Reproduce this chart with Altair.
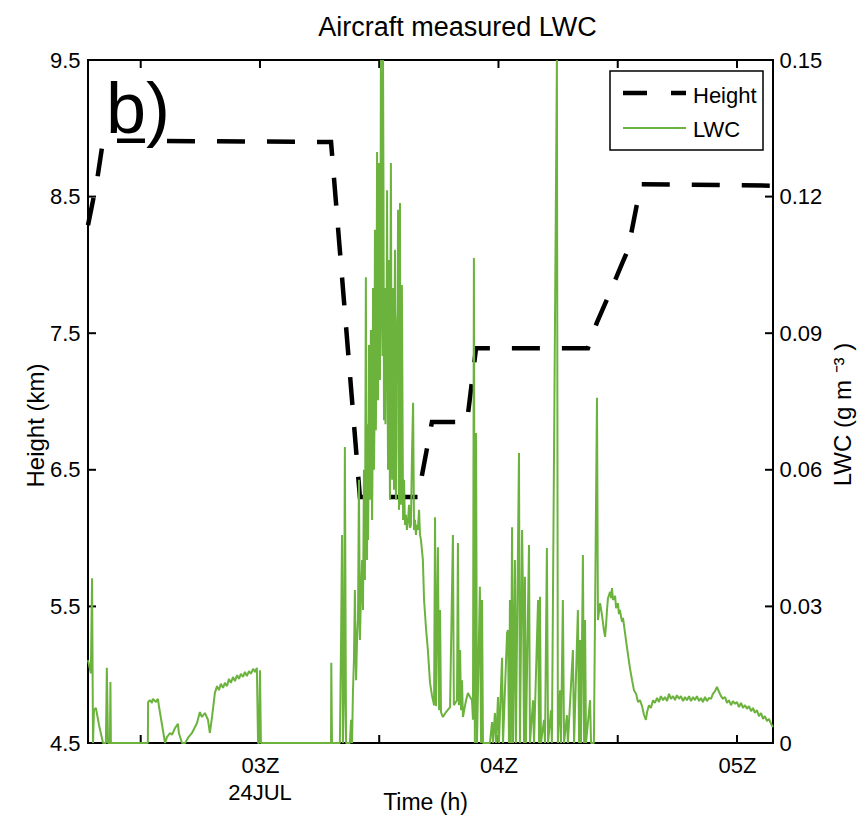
import altair as alt
import pandas as pd

FONT = "Liberation Sans, Arial, sans-serif"
GREEN = "#6cb33e"

# ---------------- data ----------------
height_time = [2.279, 2.317, 2.342, 3.298, 3.419, 3.662, 3.721, 3.868, 3.906,
               4.375, 4.413, 4.468, 4.518, 4.543, 4.597, 5.151]
height_km = [8.29, 8.62, 8.91, 8.90, 6.30, 6.30, 6.85, 6.85, 7.39,
             7.39, 7.58, 7.80, 8.01, 8.11, 8.59, 8.58]

lwc_time = [
    2.279, 2.291, 2.296, 2.300, 2.304, 2.312, 2.325, 2.342, 2.354, 2.358, 2.363, 2.371, 2.373, 2.375,
    2.530, 2.531, 2.539, 2.547, 2.551, 2.564, 2.572, 2.577, 2.602, 2.610, 2.623, 2.631, 2.644, 2.656,
    2.660, 2.673, 2.686, 2.698, 2.715, 2.736, 2.748, 2.757, 2.769, 2.782, 2.790, 2.799,
    2.811, 2.820, 2.828, 2.836, 2.845, 2.853, 2.862, 2.870, 2.878, 2.887, 2.895, 2.904, 2.912, 2.920,
    2.929, 2.937, 2.945, 2.954, 2.962, 2.971, 2.979, 2.987, 2.992, 2.996, 3.000, 3.004,
    3.298, 3.299, 3.302, 3.335, 3.340, 3.344, 3.348, 3.352, 3.356, 3.361, 3.377, 3.382, 3.386,
    3.390, 3.394, 3.398, 3.403, 3.407, 3.411, 3.415, 3.419, 3.423, 3.428, 3.432, 3.436, 3.440,
    3.444, 3.449, 3.453, 3.457, 3.461, 3.465, 3.470, 3.474, 3.478, 3.482, 3.486, 3.491, 3.495,
    3.499, 3.503, 3.507, 3.512, 3.516, 3.520, 3.524, 3.528, 3.533, 3.537, 3.541, 3.545, 3.549,
    3.554, 3.558, 3.562, 3.566, 3.570, 3.574, 3.579, 3.583, 3.587, 3.591, 3.595, 3.600, 3.604,
    3.608, 3.612, 3.616, 3.621, 3.625, 3.629, 3.633, 3.637, 3.642, 3.646, 3.650, 3.654, 3.658,
    3.662, 3.667, 3.671, 3.675, 3.683, 3.688, 3.696, 3.704, 3.713, 3.721, 3.730, 3.734, 3.738,
    3.746, 3.751, 3.755, 3.759, 3.767, 3.780, 3.797, 3.809, 3.813, 3.826, 3.830, 3.834, 3.839,
    3.843, 3.847, 3.851, 3.864, 3.872, 3.881, 3.889, 3.893, 3.897, 3.901, 3.906, 3.910, 3.922,
    3.927, 3.931, 3.935, 3.964, 3.973, 3.977, 3.985, 3.990, 3.998, 4.002, 4.015, 4.019, 4.036,
    4.040, 4.044, 4.048, 4.052, 4.057, 4.061, 4.069, 4.073, 4.086, 4.090, 4.099, 4.103, 4.107,
    4.111, 4.115, 4.128, 4.132, 4.145, 4.149, 4.166, 4.170, 4.174, 4.178, 4.191, 4.195, 4.203,
    4.208, 4.220, 4.224, 4.245, 4.249, 4.258, 4.262, 4.270, 4.275, 4.287, 4.291, 4.312, 4.317,
    4.333, 4.338, 4.342, 4.346, 4.354, 4.359, 4.363, 4.367, 4.384, 4.388, 4.400, 4.413,
    4.417, 4.426, 4.434, 4.442, 4.447, 4.451, 4.455, 4.459, 4.468, 4.472, 4.476, 4.480, 4.489,
    4.493, 4.501, 4.505, 4.509, 4.518, 4.522, 4.530, 4.539, 4.551, 4.560, 4.568, 4.577, 4.585,
    4.593, 4.602, 4.610, 4.618, 4.623, 4.631, 4.639, 4.648, 4.656, 4.665, 4.673, 4.681, 4.690,
    4.698, 4.707, 4.715, 4.723, 4.732, 4.740, 4.748, 4.757, 4.765, 4.774, 4.782, 4.790, 4.799,
    4.807, 4.816, 4.824, 4.832, 4.841, 4.849, 4.857, 4.866, 4.874, 4.883, 4.891, 4.899, 4.908,
    4.916, 4.925, 4.933, 4.941, 4.950, 4.958, 4.966, 4.975, 4.983, 4.992, 5.000, 5.008, 5.017,
    5.025, 5.034, 5.042, 5.050, 5.059, 5.067, 5.075, 5.084, 5.092, 5.101, 5.109, 5.117, 5.126,
    5.134, 5.143, 5.151,
]
lwc_value = [
    0.0182, 0.0153, 0.0362, 0.0, 0.0072, 0.0077, 0.0040, 0.0, 0.0, 0.0165, 0.0, 0.0, 0.0134, 0.0,
    0.0, 0.0090, 0.0094, 0.0088, 0.0097, 0.0090, 0.0097, 0.0079, 0.0, 0.0013, 0.0022, 0.0018, 0.0033, 0.0042,
    0.0022, 0.0, 0.0, 0.0011, 0.0022, 0.0044, 0.0068, 0.0057, 0.0066, 0.0051, 0.0022, 0.0057,
    0.0110, 0.0125, 0.0116, 0.0130, 0.0121, 0.0132, 0.0125, 0.0141, 0.0132, 0.0145, 0.0136, 0.0149, 0.0141, 0.0152,
    0.0145, 0.0156, 0.0147, 0.0158, 0.0152, 0.0163, 0.0156, 0.0165, 0.0, 0.0, 0.0160, 0.0,
    0.0, 0.0176, 0.0, 0.0, 0.0226, 0.0457, 0.0, 0.0094, 0.0650, 0.0, 0.0, 0.0051, 0.0,
    0.0116, 0.0182, 0.0336, 0.0138, 0.0226, 0.0270, 0.0578, 0.0226, 0.0314, 0.0402, 0.0292, 0.0600, 0.0358,
    0.1023, 0.0402, 0.0446, 0.0874, 0.0534, 0.0907, 0.0490, 0.0999, 0.0600, 0.1127, 0.0687, 0.1298, 0.0753,
    0.1274, 0.0797, 0.1500, 0.0973, 0.1500, 0.0709, 0.0999, 0.0907, 0.1214, 0.0600, 0.1061, 0.0534, 0.1274,
    0.0578, 0.0999, 0.0556, 0.1083, 0.0534, 0.0907, 0.1171, 0.0512, 0.1186, 0.0523, 0.1006, 0.0490, 0.0578,
    0.0479, 0.0501, 0.0468, 0.0490, 0.0523, 0.0472, 0.0479, 0.0622, 0.0747, 0.0468, 0.0490, 0.0457, 0.0479,
    0.0468, 0.0512, 0.0457, 0.0446, 0.0402, 0.0314, 0.0253, 0.0204, 0.0132, 0.0105, 0.0083, 0.0496, 0.0081,
    0.0430, 0.0072, 0.0292, 0.0068, 0.0057, 0.0068, 0.0079, 0.0457, 0.0083, 0.0094, 0.0439, 0.0083, 0.0204,
    0.0072, 0.0138, 0.0057, 0.0094, 0.0110, 0.0101, 0.0094, 0.0051, 0.1065, 0.0, 0.0681, 0.0, 0.0343,
    0.0, 0.0314, 0.0, 0.0, 0.0046, 0.0, 0.0066, 0.0, 0.0101, 0.0, 0.0187, 0.0, 0.0242,
    0.0248, 0.0, 0.0314, 0.0, 0.0474, 0.0, 0.0402, 0.0, 0.0637, 0.0, 0.0468, 0.0314, 0.0,
    0.0365, 0.0, 0.0435, 0.0, 0.0094, 0.0, 0.0314, 0.0, 0.0321, 0.0, 0.0051, 0.0, 0.0428,
    0.0, 0.0072, 0.0, 0.1500, 0.0, 0.0116, 0.0, 0.0314, 0.0, 0.0061, 0.0, 0.0204, 0.0,
    0.0292, 0.0, 0.0226, 0.0, 0.0413, 0.0, 0.0270, 0.0, 0.0094, 0.0, 0.0, 0.0758,
    0.0270, 0.0307, 0.0281, 0.0248, 0.0233, 0.0259, 0.0292, 0.0318, 0.0332, 0.0318, 0.0340, 0.0314, 0.0323,
    0.0296, 0.0307, 0.0283, 0.0292, 0.0266, 0.0275, 0.0244, 0.0209, 0.0165, 0.0138, 0.0116, 0.0108, 0.0090,
    0.0094, 0.0081, 0.0062, 0.0051, 0.0068, 0.0083, 0.0077, 0.0094, 0.0088, 0.0099, 0.0090, 0.0103, 0.0094,
    0.0101, 0.0092, 0.0108, 0.0097, 0.0103, 0.0094, 0.0105, 0.0097, 0.0103, 0.0092, 0.0101, 0.0094, 0.0103,
    0.0092, 0.0101, 0.0094, 0.0103, 0.0092, 0.0099, 0.0090, 0.0101, 0.0092, 0.0099, 0.0097, 0.0108, 0.0114,
    0.0123, 0.0112, 0.0103, 0.0097, 0.0101, 0.0088, 0.0094, 0.0083, 0.0092, 0.0086, 0.0090, 0.0079, 0.0088,
    0.0077, 0.0083, 0.0075, 0.0081, 0.0070, 0.0077, 0.0066, 0.0072, 0.0059, 0.0066, 0.0053, 0.0059, 0.0048,
    0.0053, 0.0042, 0.0035,
]
# extra readings inside the dense burst (filled-looking region near 03:30)
lwc_time_burst = [3.446, 3.451, 3.455, 3.459, 3.463, 3.467, 3.472, 3.476, 3.480, 3.484,
                  3.488, 3.493, 3.497, 3.501, 3.505, 3.510, 3.514, 3.518, 3.522, 3.526,
                  3.531, 3.535, 3.539, 3.543, 3.547, 3.552, 3.556, 3.560, 3.564, 3.568,
                  3.572, 3.577, 3.581, 3.585, 3.589, 3.593]
lwc_value_burst = [0.0620, 0.0700, 0.0560, 0.0780, 0.0650, 0.0820, 0.0610, 0.0890, 0.0700, 0.0950,
                   0.0820, 0.1100, 0.0900, 0.1150, 0.0950, 0.1250, 0.0850, 0.1200, 0.0800, 0.0700,
                   0.0950, 0.0800, 0.0900, 0.0750, 0.1000, 0.0700, 0.0850, 0.0650, 0.0900, 0.0700,
                   0.0800, 0.0950, 0.0650, 0.0900, 0.0620, 0.0800]

x_tick_values = [2.5, 3.0, 3.5, 4.0, 4.5, 5.0]
x_label_values = [3, 4, 5]
height_ticks = [4.5, 5.5, 6.5, 7.5, 8.5, 9.5]
lwc_ticks = [0, 0.03, 0.06, 0.09, 0.12, 0.15]
legend_labels = ["Height", "LWC"]

W, H = 685, 683

df_height = pd.DataFrame({"t": height_time, "v": height_km, "i": range(len(height_time))})
df_lwc = pd.concat([
    pd.DataFrame({"t": lwc_time, "v": lwc_value}),
    pd.DataFrame({"t": lwc_time_burst, "v": lwc_value_burst}),
]).sort_values("t", kind="stable").reset_index(drop=True)
df_lwc["i"] = range(len(df_lwc))
df_xt = pd.DataFrame({"t": x_tick_values})
df_ht = pd.DataFrame({"v": height_ticks})
df_lt = pd.DataFrame({"v": lwc_ticks})

x_scale = alt.Scale(domain=[2.279, 5.151], nice=False, zero=False)
h_scale = alt.Scale(domain=[4.5, 9.5], nice=False, zero=False)
l_scale = alt.Scale(domain=[0, 0.15], nice=False, zero=False)

x_axis = alt.Axis(
    values=x_label_values,
    labelExpr="datum.value == 3 ? '03Z' : '0' + datum.value + 'Z'",
    ticks=False, domain=False, grid=False,
    labelFont=FONT, labelFontSize=22, labelPadding=12,
    labelColor="black", labelFlush=False, labelOverlap=False,
    title="Time (h)", titleFont=FONT, titleFontSize=23, titleFontWeight="normal",
    titleColor="black", titleX=337, titleY=66, titleAlign="center",
    titleBaseline="alphabetic",
)
h_axis = alt.Axis(
    orient="left", values=height_ticks, labelExpr="format(datum.value, '.1f')",
    ticks=False, domain=False, grid=False,
    labelFont=FONT, labelFontSize=22, labelPadding=8, labelColor="black",
    labelFlush=False, labelOverlap=False,
    title="Height (km)", titleFont=FONT, titleFontSize=24, titleFontWeight="normal",
    titleColor="black", titleAngle=270, titleX=-45, titleY=365,
    titleAlign="center", titleBaseline="alphabetic",
)
l_axis = alt.Axis(
    orient="right", values=lwc_ticks,
    labelExpr="datum.value == 0 ? '0' : format(datum.value, '.2f')",
    ticks=False, domain=False, grid=False,
    labelFont=FONT, labelFontSize=22, labelPadding=6, labelColor="black",
    labelFlush=False, labelOverlap=False,
    title="LWC (g m \u207b\u00b3 )", titleFont=FONT, titleFontSize=24, titleFontWeight="normal",
    titleColor="black", titleAngle=270, titleX=77, titleY=354,
    titleAlign="center", titleBaseline="alphabetic",
)

height_line = alt.Chart(df_height).mark_line(
    color="black", strokeWidth=4.5, strokeDash=[28, 22], strokeCap="butt"
).encode(
    x=alt.X("t:Q", scale=x_scale, axis=x_axis),
    y=alt.Y("v:Q", scale=h_scale, axis=h_axis),
    order="i:Q",
)
left_ticks = alt.Chart(df_ht).mark_rule(color="black", strokeWidth=2).encode(
    y=alt.Y("v:Q", scale=h_scale, axis=h_axis), x=alt.value(0), x2=alt.value(8)
)
bottom_ticks = alt.Chart(df_xt).mark_rule(color="black", strokeWidth=2).encode(
    x=alt.X("t:Q", scale=x_scale, axis=x_axis), y=alt.value(H), y2=alt.value(H - 8)
)
top_ticks = alt.Chart(df_xt).mark_rule(color="black", strokeWidth=2).encode(
    x=alt.X("t:Q", scale=x_scale, axis=x_axis), y=alt.value(0), y2=alt.value(8)
)
date_label = alt.Chart(pd.DataFrame({"t": [3.0], "s": ["24JUL"]})).mark_text(
    font=FONT, fontSize=22, align="center", baseline="alphabetic", color="black"
).encode(x=alt.X("t:Q", scale=x_scale, axis=x_axis), text="s:N", y=alt.value(H + 57))
panel_label = alt.Chart(pd.DataFrame({"s": ["b)"]})).mark_text(
    font=FONT, fontSize=72, align="left", baseline="alphabetic", color="black"
).encode(text="s:N", x=alt.value(18), y=alt.value(73))

group_height = alt.layer(height_line, left_ticks, bottom_ticks, top_ticks, date_label, panel_label)

lwc_line = alt.Chart(df_lwc).mark_line(
    color=GREEN, strokeWidth=2, strokeJoin="bevel"
).encode(
    x=alt.X("t:Q", scale=x_scale, axis=x_axis),
    y=alt.Y("v:Q", scale=l_scale, axis=l_axis),
    order="i:Q",
)
right_ticks = alt.Chart(df_lt).mark_rule(color="black", strokeWidth=2).encode(
    y=alt.Y("v:Q", scale=l_scale, axis=l_axis), x=alt.value(W - 8), x2=alt.value(W)
)
group_lwc = alt.layer(lwc_line, right_ticks)

# legend box (manual, MATLAB style)
legend_box = alt.Chart(pd.DataFrame({"a": [0]})).mark_rect(
    fill="white", stroke="black", strokeWidth=1.5
).encode(x=alt.value(522), x2=alt.value(675), y=alt.value(11), y2=alt.value(90))
legend_h = alt.Chart(pd.DataFrame({"a": [0]})).mark_rule(
    color="black", strokeWidth=4.5, strokeDash=[24, 24]
).encode(x=alt.value(535), x2=alt.value(598), y=alt.value(33))
legend_l = alt.Chart(pd.DataFrame({"a": [0]})).mark_rule(
    color=GREEN, strokeWidth=2
).encode(x=alt.value(535), x2=alt.value(598), y=alt.value(68))
legend_t1 = alt.Chart(pd.DataFrame({"s": [legend_labels[0]]})).mark_text(
    font=FONT, fontSize=22, align="left", baseline="alphabetic", color="black"
).encode(text="s:N", x=alt.value(605), y=alt.value(43))
legend_t2 = alt.Chart(pd.DataFrame({"s": [legend_labels[1]]})).mark_text(
    font=FONT, fontSize=22, align="left", baseline="alphabetic", color="black"
).encode(text="s:N", x=alt.value(605), y=alt.value(77))
group_legend = alt.layer(legend_box, legend_h, legend_l, legend_t1, legend_t2)

chart = alt.layer(group_height, group_lwc, group_legend).resolve_scale(
    y="independent"
).resolve_axis(
    y="independent"
).properties(
    width=W,
    height=H,
    padding={"left": 88, "top": 60, "right": 92, "bottom": 74},
    autosize=alt.AutoSizeParams(type="none"),
    background="white",
    title=alt.TitleParams(
        "Aircraft measured LWC", font=FONT, fontSize=27, fontWeight="normal",
        color="black", anchor="middle", dx=27, offset=7,
        frame="group",
    ),
).configure_view(stroke="black", strokeWidth=2)

chart.save("out.html", embed_options={"renderer": "svg", "actions": False})
